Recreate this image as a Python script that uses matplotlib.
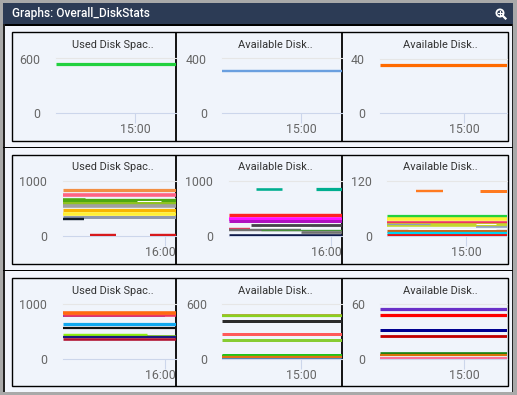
import matplotlib
matplotlib.use("Agg")
import matplotlib.pyplot as plt
from matplotlib.patches import Rectangle, Circle
from matplotlib.lines import Line2D
from matplotlib.transforms import ScaledTranslation

plt.rcParams['font.family'] = ['Roboto', 'DejaVu Sans']

W, H = 517, 395
HEADER_TITLE = "Graphs: Overall_DiskStats"
USED = "Used Disk Spac.."
AVAIL = "Available Disk.."

# ---------- data: minutes of day are used on the x axis ----------
r1c1_values = [545]
r1c1_starts = [None]
r1c1_ends = [None]
r1c1_colors = ['#22d13f']
r1c1_widths = [3.2]

r1c2_values = [310]
r1c2_starts = [None]
r1c2_ends = [None]
r1c2_colors = ['#6a9fdf']
r1c2_widths = [2.4]

r1c3_values = [35.6]
r1c3_starts = [None]
r1c3_ends = [None]
r1c3_colors = ['#ff6a00']
r1c3_widths = [3.2]

r2c1_values = [836, 750, 668, 640, 594, 545, 480, 400, 345, 310, 30, 30, 640, 700]
r2c1_starts = [None, None, None, None, None, None, None, None, None, None, 922.5, 952.5, 946, 920]
r2c1_ends = [None, None, None, None, None, None, None, None, None, 919.5, 935.5, None, 958, 965]
r2c1_colors = ['#f28f43', '#ff6384', '#4fa810', '#4fa810', '#8fc31f', '#a0a0a0', '#f7b500', '#fff034', '#8e9aaf', '#0d1b2a', '#d7191c', '#d7191c', '#ffffff', '#f5f7fb']
r2c1_widths = [3.2, 3.6, 3.6, 3.6, 4, 3.6, 3.2, 3.6, 3, 2.4, 2.4, 2.4, 1, 0.8]

r2c2_values = [865, 865, 382, 309, 273, 206, 139, 109, 109, 73, 24, 165]
r2c2_starts = [922.5, 952.5, None, None, None, 920, None, None, 925, 945, None, 925]
r2c2_ends = [935.5, None, None, None, None, None, 919.5, 945, None, None, None, 950]
r2c2_colors = ['#00ae8f', '#00ae8f', '#ff2222', '#ff10ff', '#b010c0', '#434348', '#f0365c', '#707070', '#4a8f3c', '#707070', '#0f1a4a', '#ffffff']
r2c2_widths = [2.6, 3.2, 3.4, 3.6, 3, 2.8, 2.4, 2.4, 1.4, 2.6, 2.6, 1]

r2c3_values = [98, 99, 43.6, 37, 30, 24, 26, 20, 12, 7, 3, 26, 16]
r2c3_starts = [875, 907, None, None, None, None, None, 905, None, None, None, 905, 871]
r2c3_ends = [888.5, None, None, None, None, None, 882, None, None, None, None, 915, 915]
r2c3_colors = ['#ff7a20', '#ff7a20', '#22d13f', '#fff034', '#f0365c', '#c4d82e', '#8aa0c0', '#8aa0c0', '#c8691e', '#00d0f0', '#ee1111', '#ffffff', '#ffffff']
r2c3_widths = [2.4, 3, 3.2, 3.6, 3.6, 3.6, 1.2, 1.6, 3.2, 3.2, 2.8, 1, 1]

r3c1_values = [780, 800, 841, 634, 567, 445, 425, 408, 378]
r3c1_starts = [None, None, None, None, None, None, 951, None, None]
r3c1_ends = [960, None, None, None, None, 951, None, None, None]
r3c1_colors = ['#2020e0', '#f0365c', '#ff6a10', '#10a8f0', '#111111', '#90ee10', '#78c810', '#1a1a80', '#b01030']
r3c1_widths = [1.6, 2.6, 3.6, 3.2, 2.2, 3.4, 1.6, 2.2, 2.6]

r3c2_values = [485, 470, 413, 278, 216, 51, 40, 26, 7]
r3c2_starts = [None] * 9
r3c2_ends = [None] * 9
r3c2_colors = ['#9f9f10', '#88d020', '#2b2b2b', '#ff5a5a', '#88cc33', '#22c020', '#18d010', '#e0701a', '#3070b0']
r3c2_widths = [1.6, 2.2, 3, 3, 3, 3, 2.4, 2.4, 1.6]

r3c3_values = [54.5, 48, 31.5, 25, 6.6, 5, 1]
r3c3_starts = [None] * 7
r3c3_ends = [None] * 7
r3c3_colors = ['#6a30c8', '#ff0000', '#000090', '#c00000', '#108010', '#d8720a', '#ff5080']
r3c3_widths = [3.2, 3.2, 3, 2.8, 2.6, 2.2, 1.6]

# ---------- layout (pixels) ----------
ROW_BOXES = [(31.5, 140.5), (154.5, 263.5), (277.5, 386)]
DIVIDERS = [176, 342]
BOX_X = (11.5, 507.5)


def add_axes_px(fig, x0, y0, x1, y1):
    return fig.add_axes([x0 / W, 1 - y1 / H, (x1 - x0) / W, (y1 - y0) / H])


fig = plt.figure(figsize=(W / 100, H / 100), dpi=100, facecolor='#f2f5fc')

bg = fig.add_axes([0, 0, 1, 1], zorder=0)
bg.set_xlim(0, W)
bg.set_ylim(H, 0)
bg.axis('off')
bg.add_patch(Rectangle((0, 0), W, H, fc='#a9a9a9', ec='none'))
bg.add_patch(Rectangle((3, 3), 510, 389, fc='#f2f5fc', ec='none'))
bg.add_patch(Rectangle((3, 3), 510, 21, fc='#2c3b55', ec='none'))
bg.add_patch(Rectangle((3, 24), 510, 2, fc='#000000', ec='none'))
bg.add_patch(Rectangle((3, 24), 1.5, 368, fc='#222222', ec='none'))
bg.add_patch(Rectangle((511.5, 24), 1.5, 368, fc='#222222', ec='none'))
bg.add_patch(Rectangle((3, 146.5), 510, 1.8, fc='#000000', ec='none'))
bg.add_patch(Rectangle((3, 269.5), 510, 1.8, fc='#000000', ec='none'))
bg.text(12.5, 13.5, HEADER_TITLE, color='#ffffff', fontsize=8.6, va='center', ha='left', fontweight='medium')
# zoom icon
bg.add_patch(Circle((500, 13), 3.6, fc='#2c3b55', ec='#ffffff', lw=1.3))
bg.add_line(Line2D([502.7, 505.5], [15.7, 18.5], color='#ffffff', lw=1.6))
bg.add_line(Line2D([498.2, 501.8], [13, 13], color='#ffffff', lw=0.8))
bg.add_line(Line2D([500, 500], [11.2, 14.8], color='#ffffff', lw=0.8))

for (top, bot) in ROW_BOXES:
    bg.add_patch(Rectangle((BOX_X[0], top), BOX_X[1] - BOX_X[0], bot - top, fc='#f0f4fb', ec='#000000', lw=1.0))
    for d in DIVIDERS:
        bg.add_line(Line2D([d, d], [top, bot], color='#000000', lw=1.3, solid_capstyle='butt', zorder=10))

# panel: plot-left, plot-right, top-grid y, base y, y max, x left in minutes, tick minute, tick label,
#        title, title centre, series, tick-label shift in px, y-label pad
PANELS = [
    (56, 176, 58.5, 113.3, 600, 860.5, 900, "15:00", USED, 113, (r1c1_values, r1c1_starts, r1c1_ends, r1c1_colors, r1c1_widths), 0, 11.5),
    (222, 342, 58.5, 113.3, 400, 860.5, 900, "15:00", AVAIL, 275, (r1c2_values, r1c2_starts, r1c2_ends, r1c2_colors, r1c2_widths), 0, 10.8),
    (380, 507, 58.5, 113.3, 40, 858, 900, "15:00", AVAIL, 440.5, (r1c3_values, r1c3_starts, r1c3_ends, r1c3_colors, r1c3_widths), 0, 10.8),
    (63, 176, 181.3, 236.3, 1000, 909, 960, "16:00", USED, 113, (r2c1_values, r2c1_starts, r2c1_ends, r2c1_colors, r2c1_widths), -4.7, 11.5),
    (229, 342, 181.3, 236.3, 1000, 909, 960, "16:00", AVAIL, 275, (r2c2_values, r2c2_starts, r2c2_ends, r2c2_colors, r2c2_widths), -4.7, 11.5),
    (387, 507, 181.3, 236.3, 120, 860.5, 900, "15:00", AVAIL, 440.5, (r2c3_values, r2c3_starts, r2c3_ends, r2c3_colors, r2c3_widths), 0, 10.8),
    (63, 176, 304.3, 359.3, 1000, 909, 960, "16:00", USED, 113, (r3c1_values, r3c1_starts, r3c1_ends, r3c1_colors, r3c1_widths), -4.7, 11.5),
    (222, 342, 304.3, 359.3, 600, 860.5, 900, "15:00", AVAIL, 275, (r3c2_values, r3c2_starts, r3c2_ends, r3c2_colors, r3c2_widths), 0, 10.8),
    (380, 507, 304.3, 359.3, 60, 858, 900, "15:00", AVAIL, 440.5, (r3c3_values, r3c3_starts, r3c3_ends, r3c3_colors, r3c3_widths), 0, 10.8),
]

for (x0, x1, ytop, ybase, ymax, tleft, tick, ticklab, title, tc, series, shift, ypad) in PANELS:
    ax = add_axes_px(fig, x0, ytop, x1, ybase)
    ax.set_zorder(2)
    ax.patch.set_alpha(0)
    tright = tleft + (x1 - x0) / 2
    ax.set_xlim(tleft, tright)
    ax.set_ylim(0, ymax)
    for s in ('top', 'left', 'right'):
        ax.spines[s].set_visible(False)
    ax.spines['bottom'].set_color('#ccd6eb')
    ax.spines['bottom'].set_linewidth(0.8)
    ax.set_yticks([0, ymax])
    ax.set_yticklabels(['0', str(ymax)], fontsize=8.9, color='#666666')
    ax.tick_params(axis='y', length=0, pad=ypad)
    ax.set_xticks([tick])
    ax.set_xticklabels([ticklab], fontsize=8.9, color='#666666')
    ax.tick_params(axis='x', length=7, width=0.8, color='#ccd6eb', pad=0)
    for lab in ax.get_xticklabels():
        lab.set_transform(lab.get_transform() + ScaledTranslation(shift / 100, 0, fig.dpi_scale_trans))
    ax.axhline(ymax, color='#e6e6e6', lw=0.8, clip_on=False, zorder=1)
    values, starts, ends, colors, widths = series
    for v, s, e, c, w in zip(values, starts, ends, colors, widths):
        ax.plot([tleft if s is None else s, tright if e is None else e], [v, v],
                color=c, lw=w * 0.72, solid_capstyle='butt', zorder=3)
    bg.text(tc, ytop - 13.8, title, fontsize=7.95, color='#333333', ha='center', va='center')

fig.savefig('out.png', dpi=100, facecolor=fig.get_facecolor())
